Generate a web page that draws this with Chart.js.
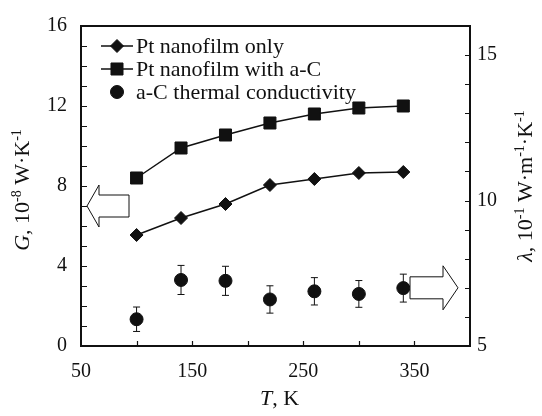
<!DOCTYPE html>
<html>
<head>
<meta charset="utf-8">
<script src="https://cdn.jsdelivr.net/npm/chart.js@4/dist/chart.umd.min.js"></script>
<style>
  html, body { margin: 0; padding: 0; background: #fff; }
</style>
</head>
<body>
<canvas id="grafico" width="542" height="416"></canvas>
<script>
// data
const temps = [100, 140, 180, 220, 260, 300, 340];
const ptOnly = [5.55, 6.4, 7.1, 8.05, 8.35, 8.65, 8.7];
const ptWithAC = [8.4, 9.9, 10.55, 11.15, 11.6, 11.9, 12.0];
const acLambda = [5.92, 7.27, 7.24, 6.6, 6.88, 6.79, 6.99];
const acError = [0.42, 0.5, 0.5, 0.47, 0.47, 0.46, 0.48];
const xLabels = [50, 150, 250, 350];
const gLabels = [0, 4, 8, 12, 16];
const lambdaLabels = [5, 10, 15];
const seriesNames = ['Pt nanofilm only', 'Pt nanofilm with a-C', 'a-C thermal conductivity'];
const arrowLevel = 7; // both arrows point at 7 on their own axis

const serif = '"Liberation Serif", "DejaVu Serif", serif';
const ink = '#111';

function pts(ys) {
  return temps.map((t, i) => ({ x: t, y: ys[i] }));
}

// text with italic / superscript pieces
function richText(ctx, parts, x, y, angle) {
  ctx.save();
  ctx.translate(x, y);
  ctx.rotate(angle);
  const fontOf = p => (p.it ? 'italic ' : '') + (p.sup ? '14px ' : '22px ') + serif;
  let w = 0;
  parts.forEach(p => { ctx.font = fontOf(p); w += ctx.measureText(p.t).width; });
  let cx = -w / 2;
  ctx.fillStyle = ink;
  ctx.textBaseline = 'alphabetic';
  ctx.textAlign = 'left';
  parts.forEach(p => {
    ctx.font = fontOf(p);
    ctx.fillText(p.t, cx, p.sup ? -1 : 7);
    cx += ctx.measureText(p.t).width;
  });
  ctx.restore();
}

function hollowArrow(ctx, tipX, tipY, dir, headLen, totalLen, headHalf, shaftHalf) {
  const b = tipX + dir * headLen;
  const tail = tipX + dir * totalLen;
  ctx.beginPath();
  ctx.moveTo(tipX, tipY);
  ctx.lineTo(b, tipY - headHalf);
  ctx.lineTo(b, tipY - shaftHalf);
  ctx.lineTo(tail, tipY - shaftHalf);
  ctx.lineTo(tail, tipY + shaftHalf);
  ctx.lineTo(b, tipY + shaftHalf);
  ctx.lineTo(b, tipY + headHalf);
  ctx.closePath();
  ctx.fillStyle = '#fff';
  ctx.fill();
  ctx.lineWidth = 1;
  ctx.strokeStyle = ink;
  ctx.stroke();
}

const extras = {
  id: 'extras',
  afterDatasetsDraw(chart) {
    const ctx = chart.ctx;
    const a = chart.chartArea;
    const sx = chart.scales.x, sy = chart.scales.y, sy2 = chart.scales.y2;

    // error bars
    ctx.save();
    ctx.strokeStyle = ink;
    ctx.lineWidth = 1;
    temps.forEach((t, i) => {
      const px = sx.getPixelForValue(t);
      const top = sy2.getPixelForValue(acLambda[i] + acError[i]);
      const bot = sy2.getPixelForValue(acLambda[i] - acError[i]);
      ctx.beginPath();
      ctx.moveTo(px, top); ctx.lineTo(px, bot);
      ctx.moveTo(px - 3.5, top); ctx.lineTo(px + 3.5, top);
      ctx.moveTo(px - 3.5, bot); ctx.lineTo(px + 3.5, bot);
      ctx.stroke();
    });

    // frame and inward ticks
    ctx.lineWidth = 2;
    ctx.strokeRect(a.left, a.top, a.right - a.left, a.bottom - a.top);
    ctx.lineWidth = 1.2;
    ctx.beginPath();
    for (let v = 100; v < 400; v += 50) {
      const px = Math.round(sx.getPixelForValue(v)) + 0.5;
      ctx.moveTo(px, a.bottom); ctx.lineTo(px, a.bottom - 5);
    }
    for (let v = 1; v < 16; v++) {
      const py = Math.round(sy.getPixelForValue(v)) + 0.5;
      ctx.moveTo(a.left, py); ctx.lineTo(a.left + 6, py);
    }
    for (let v = 6; v < 16; v++) {
      const py = Math.round(sy2.getPixelForValue(v)) + 0.5;
      ctx.moveTo(a.right, py); ctx.lineTo(a.right - 5, py);
    }
    ctx.stroke();

    // arrows telling which axis belongs to which data
    hollowArrow(ctx, a.left + 6, sy.getPixelForValue(arrowLevel), 1, 12, 42, 21, 11);
    hollowArrow(ctx, a.right - 12, sy2.getPixelForValue(arrowLevel), -1, 15, 48, 22, 11);

    // legend
    const rowY = [34, 57, 80];
    chart.data.datasets.forEach((ds, i) => {
      const y = a.top + rowY[i] - 14;
      ctx.strokeStyle = ink;
      ctx.fillStyle = ink;
      if (ds.showLine !== false) {
        ctx.lineWidth = 1.5;
        ctx.beginPath();
        ctx.moveTo(a.left + 20, y); ctx.lineTo(a.left + 52, y);
        ctx.stroke();
      }
      ctx.lineWidth = 1;
      Chart.helpers.drawPoint(ctx, {
        pointStyle: ds.pointStyle, radius: ds.pointRadius, borderWidth: 1
      }, a.left + 36, y);
      ctx.fillStyle = ink;
      ctx.font = '22px ' + serif;
      ctx.textBaseline = 'middle';
      ctx.textAlign = 'left';
      ctx.fillText(seriesNames[i], a.left + 55, y + 1);
    });
    ctx.restore();

    // axis titles
    richText(ctx, [{ t: 'T', it: true }, { t: ', K' }], (a.left + a.right) / 2 + 4, 398, 0);
    richText(ctx, [{ t: 'G', it: true }, { t: ', 10' }, { t: '-8', sup: true }, { t: ' W·K' }, { t: '-1', sup: true }],
      22, 190, -Math.PI / 2);
    richText(ctx, [{ t: 'λ', it: true }, { t: ', 10' }, { t: '-1', sup: true }, { t: ' W·m' }, { t: '-1', sup: true }, { t: '·K' }, { t: '-1', sup: true }],
      525, 186, -Math.PI / 2);
  }
};

const tickFont = { family: serif, size: 20 };

new Chart(document.getElementById('grafico'), {
  type: 'line',
  data: {
    datasets: [
      {
        label: seriesNames[0],
        data: pts(ptOnly),
        yAxisID: 'y',
        borderColor: ink,
        backgroundColor: ink,
        borderWidth: 1.5,
        pointStyle: 'rectRot',
        pointRadius: 6.5,
        pointBorderWidth: 1
      },
      {
        label: seriesNames[1],
        data: pts(ptWithAC),
        yAxisID: 'y',
        borderColor: ink,
        backgroundColor: ink,
        borderWidth: 1.5,
        pointStyle: 'rect',
        pointRadius: 8.5,
        pointBorderWidth: 1
      },
      {
        label: seriesNames[2],
        data: pts(acLambda),
        yAxisID: 'y2',
        showLine: false,
        borderColor: ink,
        backgroundColor: ink,
        pointStyle: 'circle',
        pointRadius: 6.5,
        pointBorderWidth: 1
      }
    ]
  },
  options: {
    responsive: false,
    animation: false,
    devicePixelRatio: 1,
    layout: { padding: { top: 14, left: 0, right: 0, bottom: 0 } },
    plugins: { legend: { display: false }, tooltip: { enabled: false } },
    scales: {
      x: {
        type: 'linear',
        min: 50,
        max: 400,
        afterFit: s => { s.height = 70; },
        grid: { display: false, drawTicks: false },
        border: { display: false },
        ticks: {
          stepSize: 50,
          autoSkip: false,
          maxRotation: 0,
          padding: 14,
          color: ink,
          font: tickFont,
          callback: v => (xLabels.includes(v) ? String(v) : '')
        }
      },
      y: {
        position: 'left',
        min: 0,
        max: 16,
        afterFit: s => { s.width = 81; },
        grid: { display: false, drawTicks: false },
        border: { display: false },
        ticks: {
          stepSize: 1,
          autoSkip: false,
          padding: 14,
          color: ink,
          font: tickFont,
          callback: v => (gLabels.includes(v) ? String(v) : '')
        }
      },
      y2: {
        position: 'right',
        min: 5,
        max: 16,
        afterFit: s => { s.width = 72; },
        grid: { display: false, drawTicks: false },
        border: { display: false },
        ticks: {
          stepSize: 1,
          autoSkip: false,
          padding: 7,
          color: ink,
          font: tickFont,
          callback: v => (lambdaLabels.includes(v) ? String(v) : '')
        }
      }
    }
  },
  plugins: [extras]
});
</script>
</body>
</html>
